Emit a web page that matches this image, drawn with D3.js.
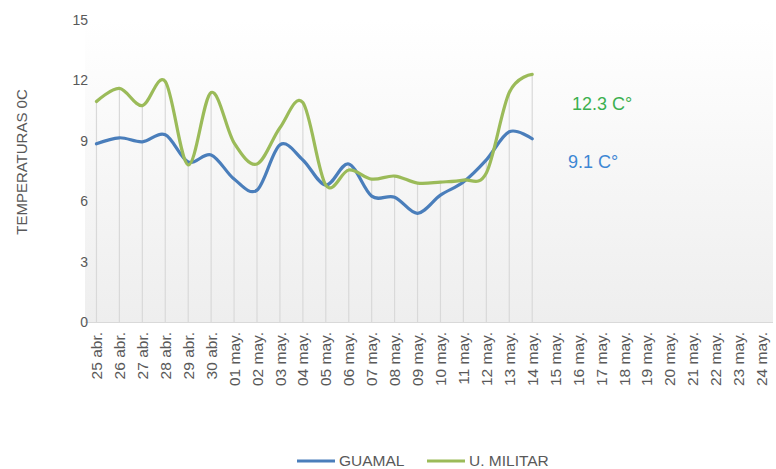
<!DOCTYPE html>
<html>
<head>
<meta charset="utf-8">
<script src="https://cdn.jsdelivr.net/npm/d3@7"></script>
<style>
  body { margin: 0; background: #fff; }
  text { font-family: "Liberation Sans", Arial, sans-serif; fill: #595959; }
</style>
</head>
<body>
<div id="chart"></div>
<script>
;(function () {
  ////////////////////////////////////////////////////////////////////////////////
  // Data
  const days = [
    '25 abr.', '26 abr.', '27 abr.', '28 abr.', '29 abr.', '30 abr.',
    '01 may.', '02 may.', '03 may.', '04 may.', '05 may.', '06 may.',
    '07 may.', '08 may.', '09 may.', '10 may.', '11 may.', '12 may.',
    '13 may.', '14 may.', '15 may.', '16 may.', '17 may.', '18 may.',
    '19 may.', '20 may.', '21 may.', '22 may.', '23 may.', '24 may.',
  ];
  // only the first 20 days have readings
  const guamal = [8.85, 9.15, 8.95, 9.3, 7.95, 8.3, 7.1, 6.55, 8.8, 8.05,
    6.8, 7.85, 6.25, 6.2, 5.4, 6.3, 6.95, 8.05, 9.45, 9.1];
  const militar = [10.95, 11.6, 10.75, 11.95, 7.8, 11.4, 8.9, 7.85, 9.65, 10.9,
    6.8, 7.55, 7.1, 7.25, 6.9, 6.95, 7.05, 7.4, 11.4, 12.3];
  const yTicks = [0, 3, 6, 9, 12, 15];
  const series = [
    { name: 'GUAMAL', values: guamal, color: '#4a7ebb', label: '9.1 C°', labelColor: '#3d87d4' },
    { name: 'U. MILITAR', values: militar, color: '#9bbb59', label: '12.3 C°', labelColor: '#3bb04f' },
  ];

  ////////////////////////////////////////////////////////////////////////////////
  // Setup
  const width = 776;
  const height = 469;
  const plot = { left: 85, right: 773, top: 20, bottom: 322 };

  const svg = d3.select('#chart').append('svg')
    .attr('width', width)
    .attr('height', height);

  const xScale = d3.scalePoint()
    .domain(days)
    .range([plot.left, plot.right])
    .padding(0.5);
  const yScale = d3.scaleLinear()
    .domain([0, 15])
    .range([plot.bottom, plot.top]);

  // Plot area gradient
  const grad = svg.append('defs').append('linearGradient')
    .attr('id', 'bg')
    .attr('x1', 0).attr('y1', 0).attr('x2', 0).attr('y2', 1);
  grad.append('stop').attr('offset', '0%').attr('stop-color', '#ffffff');
  grad.append('stop').attr('offset', '100%').attr('stop-color', '#eeeeee');

  svg.append('rect')
    .attr('x', plot.left)
    .attr('y', plot.top)
    .attr('width', plot.right - plot.left)
    .attr('height', plot.bottom - plot.top)
    .attr('fill', 'url(#bg)');

  // Drop lines
  svg.append('g')
    .selectAll('line')
    .data(guamal.map((v, i) => ({ day: days[i], top: Math.max(v, militar[i]) })))
    .enter().append('line')
      .attr('stroke', '#d9d9d9')
      .attr('stroke-width', 1.2)
      .attr('x1', d => xScale(d.day))
      .attr('x2', d => xScale(d.day))
      .attr('y1', d => yScale(d.top))
      .attr('y2', yScale(0));

  // Axes
  svg.append('line')
    .attr('stroke', '#d9d9d9')
    .attr('x1', plot.left).attr('x2', plot.right)
    .attr('y1', yScale(0) + 0.5).attr('y2', yScale(0) + 0.5);

  svg.append('g')
    .selectAll('text')
    .data(yTicks)
    .enter().append('text')
      .attr('x', 88)
      .attr('y', d => yScale(d))
      .attr('dy', '0.35em')
      .attr('text-anchor', 'end')
      .style('font-size', '14px')
      .text(d => d);

  svg.append('g')
    .selectAll('text')
    .data(days)
    .enter().append('text')
      .attr('transform', d => `translate(${xScale(d)} 332) rotate(-90)`)
      .attr('dy', '0.36em')
      .attr('text-anchor', 'end')
      .style('font-size', '15.5px')
      .text(d => d);

  svg.append('text')
    .attr('transform', 'translate(22 162) rotate(-90)')
    .attr('dy', '0.35em')
    .attr('text-anchor', 'middle')
    .style('font-size', '15px')
    .text('TEMPERATURAS 0C');

  // Lines
  const line = d3.line()
    .x((d, i) => xScale(days[i]))
    .y(d => yScale(d))
    .curve(d3.curveCardinal.tension(0));

  svg.append('g')
    .selectAll('path')
    .data(series)
    .enter().append('path')
      .attr('fill', 'none')
      .attr('stroke', d => d.color)
      .attr('stroke-width', 3.2)
      .attr('stroke-linecap', 'round')
      .attr('stroke-linejoin', 'round')
      .attr('d', d => line(d.values));

  // Last value labels
  svg.append('text')
    .attr('x', 572).attr('y', 104)
    .attr('dy', '0.35em')
    .style('font-size', '18px')
    .style('fill', series[1].labelColor)
    .text(series[1].label);

  svg.append('text')
    .attr('x', 568).attr('y', 162)
    .attr('dy', '0.35em')
    .style('font-size', '18px')
    .style('fill', series[0].labelColor)
    .text(series[0].label);

  // Legend
  const legendX = [297, 427];
  const legend = svg.append('g')
    .selectAll('g')
    .data(series)
    .enter().append('g')
      .attr('transform', (d, i) => `translate(${legendX[i]} 461)`);

  legend.append('line')
    .attr('x1', 0).attr('x2', 38)
    .attr('stroke', d => d.color)
    .attr('stroke-width', 3);

  legend.append('text')
    .attr('x', 42)
    .attr('dy', '0.35em')
    .style('font-size', '15.5px')
    .text(d => d.name);
})();
</script>
</body>
</html>
